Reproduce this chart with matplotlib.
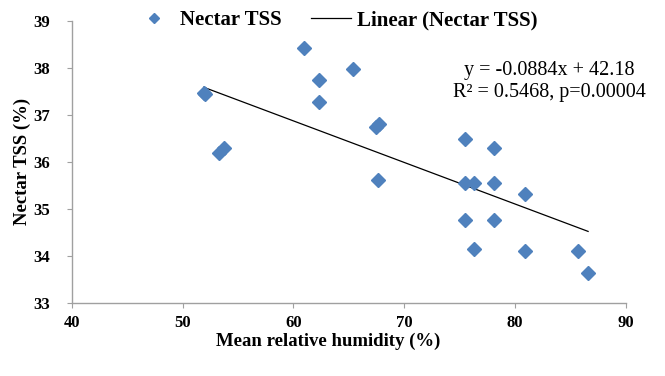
import numpy as np
import matplotlib
matplotlib.use('Agg')
import matplotlib.pyplot as plt

# --- datos ---
humidity = [51.9, 52.0, 53.3, 53.7, 61.0, 62.3, 62.3, 65.4, 67.5, 67.7, 67.6,
            75.5, 75.5, 76.3, 78.1, 78.1, 75.5, 78.1, 76.3, 80.9, 80.9, 85.7, 86.6]
tss = [37.46, 37.44, 36.2, 36.3, 38.43, 37.74, 37.28, 37.99, 36.75, 36.8, 35.62,
       36.5, 35.55, 35.55, 36.3, 35.55, 34.77, 34.77, 34.16, 35.33, 34.11, 34.11, 33.63]
slope, intercept = -0.0884, 42.18
eq_lines = ["y = -0.0884x + 42.18", "R\u00b2 = 0.5468, p=0.00004"]

plt.rcParams['font.family'] = ['Liberation Serif', 'DejaVu Serif']

fig = plt.figure(figsize=(6.65, 3.76), dpi=100)
ax = fig.add_axes([0.108, 0.194, 0.833, 0.75])

ax.plot(humidity, tss, 'D', color='#4F81BD', ms=7, mec='#4F81BD',
        label='Nectar TSS', zorder=3)
xf = np.array([min(humidity), max(humidity)])
ax.plot(xf, slope * xf + intercept, color='black', lw=0.9,
        label='Linear (Nectar TSS)', zorder=2)

ax.set_xlim(40, 90)
ax.set_ylim(33, 39)
ax.set_xticks(range(40, 91, 10))
ax.set_yticks(range(33, 40))

for s in ['top', 'right']:
    ax.spines[s].set_visible(False)
for s in ['left', 'bottom']:
    ax.spines[s].set_color('#A0A0A0')
    ax.spines[s].set_linewidth(1.0)
ax.tick_params(direction='out', length=3.6, color='#A0A0A0', labelsize=12)
ax.tick_params(axis='y', pad=12)
ax.tick_params(axis='x', pad=5)
for lab in ax.get_xticklabels() + ax.get_yticklabels():
    lab.set_fontweight('bold')

ax.set_xlabel('Mean relative humidity (%)', fontsize=13.5, fontweight='bold')
ax.set_ylabel('Nectar TSS (%)', fontsize=13.5, fontweight='bold')
# posiciones de las etiquetas como en el original (Excel)
ax.xaxis.set_label_coords(328 / 665, 1 - 341 / 376, transform=fig.transFigure)
ax.yaxis.set_label_coords(22 / 665, 1 - 161 / 376, transform=fig.transFigure)
ax.xaxis.label.set_va('center')
ax.yaxis.label.set_va('center')

ax.text(549 / 665, 1 - 70 / 376, eq_lines[0], transform=fig.transFigure,
        ha='center', va='center', fontsize=14.5)
ax.text(549 / 665, 1 - 92 / 376, eq_lines[1], transform=fig.transFigure,
        ha='center', va='center', fontsize=14.5)

fig.legend(loc='center', bbox_to_anchor=(336 / 665, 1 - 20 / 376), ncol=2,
           frameon=False, prop={'weight': 'bold', 'size': 15},
           handlelength=1.9, columnspacing=1.4, handletextpad=0.3,
           markerscale=0.75)

plt.savefig('out.png', dpi=100)
